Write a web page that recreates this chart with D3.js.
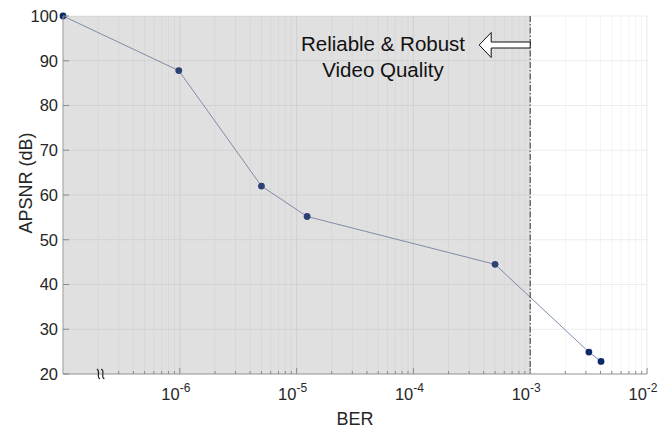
<!DOCTYPE html>
<html>
<head>
<meta charset="utf-8">
<script src="https://cdn.jsdelivr.net/npm/d3@7"></script>
<style>
  body { margin: 0; background: #fff; }
  text { font-family: "Liberation Sans", Arial, sans-serif; }
</style>
</head>
<body>
<div id="chart"></div>
<script>
// Data
const ber = [1e-7, 0.98e-6, 5.0e-6, 1.23e-5, 5.0e-4, 3.18e-3, 4.04e-3];
const apsnr = [100, 87.8, 62.0, 55.2, 44.5, 24.9, 22.8];
const yTicks = [20, 30, 40, 50, 60, 70, 80, 90, 100];
const xTicks = [1e-6, 1e-5, 1e-4, 1e-3, 1e-2];
const xTickExp = ['-6', '-5', '-4', '-3', '-2'];
const threshold = 1e-3;
const noteLines = ['Reliable & Robust', 'Video Quality'];

const width = 663;
const height = 428;
const margin = { left: 63, right: 16, top: 16, bottom: 54 };
const w = width - margin.left - margin.right;
const h = height - margin.top - margin.bottom;

const svg = d3.select('#chart').append('svg')
  .attr('width', width)
  .attr('height', height);

const chart = svg.append('g').attr('transform', `translate(${margin.left}, ${margin.top})`);

const x = d3.scaleLog().domain([1e-7, 1e-2]).range([0, w]);
const y = d3.scaleLinear().domain([20, 100]).range([h, 0]);

// minor positions 2..9 in each decade
const minor = [];
for (let e = -7; e < -2; e += 1) {
  for (let m = 2; m <= 9; m += 1) minor.push(m * 10 ** e);
}

// Grid
chart.append('g').selectAll('line')
  .data(minor).enter().append('line')
  .attr('x1', (d) => x(d)).attr('x2', (d) => x(d))
  .attr('y1', 0).attr('y2', h)
  .attr('stroke', '#f4f4f4');

chart.append('g').selectAll('line')
  .data(xTicks).enter().append('line')
  .attr('x1', (d) => x(d)).attr('x2', (d) => x(d))
  .attr('y1', 0).attr('y2', h)
  .attr('stroke', '#eaeaea');

chart.append('g').selectAll('line')
  .data(yTicks).enter().append('line')
  .attr('x1', 0).attr('x2', w)
  .attr('y1', (d) => y(d)).attr('y2', (d) => y(d))
  .attr('stroke', '#ededed');

// Line + points
chart.append('path')
  .datum(ber.map((b, i) => [b, apsnr[i]]))
  .attr('fill', 'none')
  .attr('stroke', '#7d8db0')
  .attr('stroke-width', 1)
  .attr('d', d3.line().x((d) => x(d[0])).y((d) => y(d[1])));

chart.selectAll('circle')
  .data(ber).enter().append('circle')
  .attr('cx', (d) => x(d))
  .attr('cy', (d, i) => y(apsnr[i]))
  .attr('r', 3.4)
  .attr('fill', '#0b2a6b');

// Shaded region (drawn over marks, semi transparent)
chart.append('rect')
  .attr('x', 0).attr('y', 0)
  .attr('width', x(threshold)).attr('height', h)
  .attr('fill', '#8a878a')
  .attr('fill-opacity', 0.26);

// Threshold line
chart.append('line')
  .attr('x1', x(threshold)).attr('x2', x(threshold))
  .attr('y1', 0).attr('y2', h)
  .attr('stroke', '#333')
  .attr('stroke-width', 1)
  .attr('stroke-dasharray', '6,2,1.5,2');

// Axes lines
chart.append('line').attr('x1', 0).attr('x2', w).attr('y1', h).attr('y2', h)
  .attr('stroke', '#9a9a9a');
chart.append('line').attr('x1', 0).attr('x2', 0).attr('y1', 0).attr('y2', h)
  .attr('stroke', '#9a9a9a');

// Ticks (inward)
chart.append('g').selectAll('line')
  .data(minor).enter().append('line')
  .attr('x1', (d) => x(d)).attr('x2', (d) => x(d))
  .attr('y1', h).attr('y2', h - 3)
  .attr('stroke', '#8a8a8a');
chart.append('g').selectAll('line')
  .data(xTicks).enter().append('line')
  .attr('x1', (d) => x(d)).attr('x2', (d) => x(d))
  .attr('y1', h).attr('y2', h - 6)
  .attr('stroke', '#8a8a8a');
chart.append('g').selectAll('line')
  .data(yTicks).enter().append('line')
  .attr('x1', 0).attr('x2', 6)
  .attr('y1', (d) => y(d)).attr('y2', (d) => y(d))
  .attr('stroke', '#8a8a8a');

// Tick labels
chart.append('g').selectAll('text')
  .data(yTicks).enter().append('text')
  .attr('x', -5)
  .attr('y', (d) => y(d))
  .attr('dy', '0.36em')
  .attr('text-anchor', 'end')
  .attr('font-size', 16.5)
  .attr('fill', '#262626')
  .text((d) => d);

const xl = chart.append('g').selectAll('text')
  .data(xTicks).enter().append('text')
  .attr('x', (d) => x(d) - 4)
  .attr('y', h + 26)
  .attr('text-anchor', 'middle')
  .attr('font-size', 16.5)
  .attr('fill', '#262626');
xl.append('tspan').text('10');
xl.append('tspan')
  .attr('font-size', 12)
  .attr('dy', -8)
  .text((d, i) => xTickExp[i]);

// Axis break mark: two small wavy strokes
const bx = x(2.1e-7);
const wave = (dx) => `M${bx + dx - 1.5},${h - 5} C${bx + dx + 3},${h - 2} ${bx + dx - 3},${h + 2} ${bx + dx + 1.5},${h + 5}`;
chart.append('g').selectAll('path')
  .data([-2.2, 2.2]).enter().append('path')
  .attr('d', (d) => wave(d))
  .attr('fill', 'none')
  .attr('stroke', '#222')
  .attr('stroke-width', 1.1);

// Axis titles
svg.append('text')
  .attr('x', margin.left + w / 2)
  .attr('y', height - 3)
  .attr('text-anchor', 'middle')
  .attr('font-size', 18)
  .attr('fill', '#262626')
  .text('BER');

svg.append('text')
  .attr('transform', `translate(32, ${margin.top + h / 2 - 12}) rotate(-90)`)
  .attr('text-anchor', 'middle')
  .attr('font-size', 18)
  .attr('fill', '#262626')
  .text('APSNR (dB)');

// Annotation
chart.append('g').selectAll('text')
  .data(noteLines).enter().append('text')
  .attr('x', 383 - margin.left)
  .attr('y', (d, i) => 35 + i * 26)
  .attr('text-anchor', 'middle')
  .attr('font-family', 'Lato, "Open Sans", sans-serif')
  .attr('font-size', 20.5)
  .attr('fill', '#111')
  .text((d) => d);

// Hollow arrow pointing left, ending at threshold line
const ax = x(threshold);
const ay = 29;
chart.append('path')
  .attr('d', `M${ax},${ay - 3} L${ax - 39},${ay - 3} L${ax - 39},${ay - 12.5} L${ax - 51},${ay}
    L${ax - 39},${ay + 12.5} L${ax - 39},${ay + 3} L${ax},${ay + 3} Z`)
  .attr('fill', '#fff')
  .attr('stroke', '#111')
  .attr('stroke-width', 1);
</script>
</body>
</html>
